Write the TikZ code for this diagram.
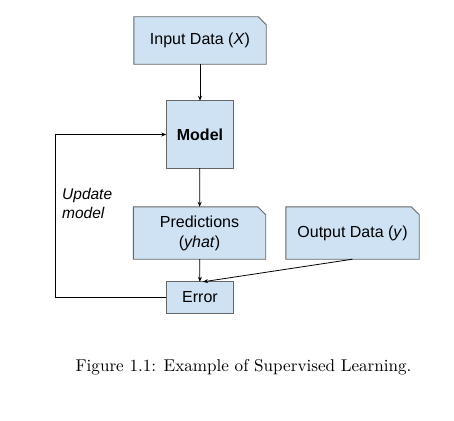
\documentclass[tikz,border=0pt]{standalone}
\usepackage{fontspec}
\newfontfamily\arialf{Liberation Sans}
\newfontfamily\capfont{lmroman10-regular}[Extension=.otf]
\usetikzlibrary{arrows.meta,backgrounds}
\definecolor{boxblue}{HTML}{CFE2F3}
\definecolor{boxgray}{HTML}{666666}
\tikzset{
  blk/.style={inner sep=0pt, align=center, font=\arialf\fontsize{16}{20}\selectfont},
  boxfill/.style={fill=boxblue, draw=boxgray, line width=0.9pt},
  conn/.style={draw=black, line width=0.8pt, -{Stealth[length=5pt,width=4pt]}},
  lbl/.style={inner sep=0pt, align=left, font=\arialf\itshape\fontsize{15.5}{19}\selectfont},
}
\newcommand{\cutbox}[1]{%
  \path[boxfill] (#1.south west) -- (#1.north west) -- ([xshift=-8pt]#1.north east)
    -- ([yshift=-8pt]#1.north east) -- (#1.south east) -- cycle;}
\newcommand{\plainbox}[1]{%
  \path[boxfill] (#1.south west) rectangle (#1.north east);}
\begin{document}
\begin{tikzpicture}[x=1pt,y=-1pt]
\useasboundingbox (0,0) rectangle (454,420);
\node[blk, minimum width=132pt, minimum height=47pt] (input) at (200,40.5) {Input Data (\textit{X})};
\node[blk, minimum width=67pt, minimum height=67pt] (model) at (200,134.5) {\textbf{Model}};
\node[blk, minimum width=132pt, minimum height=52pt] (pred) at (199.5,233) {Predictions\\(\textit{yhat})};
\node[blk, minimum width=133pt, minimum height=52pt] (out) at (352.5,233) {Output Data (\textit{y})};
\node[blk, minimum width=67pt, minimum height=31pt] (err) at (200,297.5) {Error};
\node[lbl, anchor=west] (upd) at (62,203) {Update\\model};
\node[inner sep=0pt, anchor=base, font=\capfont\fontsize{17.1}{20}\selectfont] (cap) at (243.5,371.5) {Figure 1.1: Example of Supervised Learning.};
\coordinate (loopb) at (55,297.5);
\coordinate (loopt) at (55,134.5);
\coordinate (errin) at ([xshift=3pt]err.north);
\begin{scope}[on background layer]
  \cutbox{input}
  \plainbox{model}
  \cutbox{pred}
  \cutbox{out}
  \plainbox{err}
\end{scope}
\draw[conn] (input) -- (model);
\draw[conn] (model) -- (pred);
\draw[conn] (pred) -- (err);
\draw[conn] (out.south) -- (errin);
\draw[conn] (err.west) -- (loopb) -- (loopt) -- (model.west);
\end{tikzpicture}
\end{document}
